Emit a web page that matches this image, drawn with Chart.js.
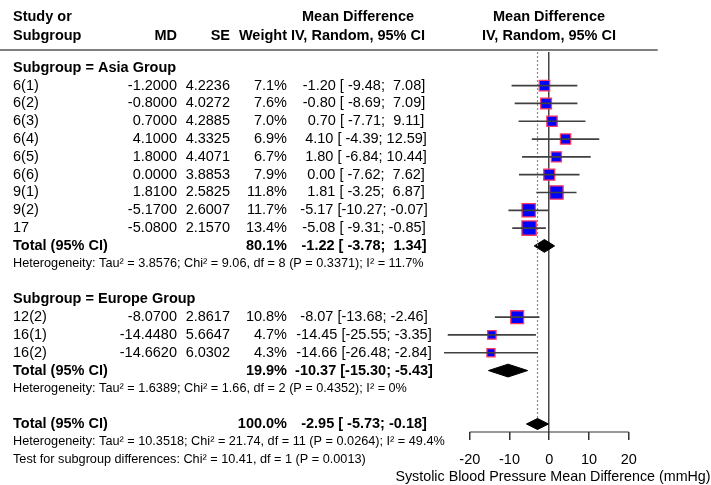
<!DOCTYPE html>
<html lang="en">
<head>
    <meta charset="UTF-8">
    <title>Forest plot - Systolic Blood Pressure</title>
    <script src="https://cdn.jsdelivr.net/npm/chart.js"></script>
    <style>
        body { margin: 0; background: #fff; }
        #forest { display: block; }
    </style>
</head>
<body>
    <canvas id="forest" width="711" height="485"></canvas>

    <script>
        // study level data
        const studies = ['6(1)', '6(2)', '6(3)', '6(4)', '6(5)', '6(6)', '9(1)', '9(2)', '17', '12(2)', '16(1)', '16(2)'];
        const studyRows = [1, 2, 3, 4, 5, 6, 7, 8, 9, 14, 15, 16];
        const md = [-1.2, -0.8, 0.7, 4.1, 1.8, 0.0, 1.81, -5.17, -5.08, -8.07, -14.448, -14.662];
        const se = [4.2236, 4.0272, 4.2885, 4.3325, 4.4071, 3.8853, 2.5825, 2.6007, 2.1570, 2.8617, 5.6647, 6.0302];
        const weight = [7.1, 7.6, 7.0, 6.9, 6.7, 7.9, 11.8, 11.7, 13.4, 10.8, 4.7, 4.3];
        const ciLow = [-9.48, -8.69, -7.71, -4.39, -6.84, -7.62, -3.25, -10.27, -9.31, -13.68, -25.55, -26.48];
        const ciHigh = [7.08, 7.09, 9.11, 12.59, 10.44, 7.62, 6.87, -0.07, -0.85, -2.46, -3.35, -2.84];

        // pooled estimates (Asia, Europe, overall)
        const pooledRows = [10, 17, 20];
        const pooledWeight = [80.1, 19.9, 100.0];
        const pooledMd = [-1.22, -10.37, -2.95];
        const pooledLow = [-3.78, -15.30, -5.73];
        const pooledHigh = [1.34, -5.43, -0.18];

        const groupHeads = ['Subgroup = Asia Group', 'Subgroup = Europe Group'];
        const groupHeadRows = [0, 13];
        const hetText = [
            'Heterogeneity: Tau\u00b2 = 3.8576; Chi\u00b2 = 9.06, df = 8 (P = 0.3371); I\u00b2 = 11.7%',
            'Heterogeneity: Tau\u00b2 = 1.6389; Chi\u00b2 = 1.66, df = 2 (P = 0.4352); I\u00b2 = 0%',
            'Heterogeneity: Tau\u00b2 = 10.3518; Chi\u00b2 = 21.74, df = 11 (P = 0.0264); I\u00b2 = 49.4%',
            'Test for subgroup differences: Chi\u00b2 = 10.41, df = 1 (P = 0.0013)'
        ];
        const hetRows = [11, 18, 21, 22];

        const xTicks = [-20, -10, 0, 10, 20];
        const xTitle = 'Systolic Blood Pressure Mean Difference (mmHg)';

        const FONT = '"Liberation Sans", Arial, sans-serif';
        const Y_TOP = -0.89, Y_BOTTOM = 20.45;

        const pad = (s, n) => s.length >= n ? s : ' '.repeat(n - s.length) + s;
        const estText = (m, lo, hi) =>
            pad(m.toFixed(2), 5) + ' [' + pad(lo.toFixed(2), 6) + '; ' + pad(hi.toFixed(2), 5) + ']';

        // CI whiskers, one small dataset each
        const ciSets = studies.map((s, i) => ({
            data: [{ x: ciLow[i], y: studyRows[i] }, { x: ciHigh[i], y: studyRows[i] }],
            showLine: true,
            borderColor: '#404040',
            borderWidth: 1.7,
            pointRadius: 0,
            clip: false
        }));

        const diamondSets = pooledMd.map((m, i) => {
            const r = pooledRows[i];
            const h = i === 2 ? 0.31 : 0.36;
            return {
                data: [
                    { x: pooledLow[i], y: r }, { x: m, y: r - h },
                    { x: pooledHigh[i], y: r }, { x: m, y: r + h },
                    { x: pooledLow[i], y: r }
                ],
                showLine: true,
                fill: 'shape',
                backgroundColor: '#000',
                borderColor: '#000',
                borderWidth: 1,
                pointRadius: 0,
                clip: false
            };
        });

        const textPlugin = {
            id: 'forestText',
            afterDraw(chart) {
                const ctx = chart.ctx;
                const ys = chart.scales.y;
                const py = r => ys.getPixelForValue(r);
                const put = (t, x, r, align, bold, size) => {
                    ctx.font = (bold ? 'bold ' : '') + (size || 14.5) + 'px ' + FONT;
                    ctx.textAlign = align;
                    ctx.fillText(t, x, typeof r === 'number' ? py(r) : r.px);
                };
                ctx.save();
                ctx.fillStyle = '#000';
                ctx.textBaseline = 'middle';

                // header
                put('Study or', 13, { px: 17 }, 'left', true);
                put('Subgroup', 13, { px: 36 }, 'left', true);
                put('MD', 177, { px: 36 }, 'right', true);
                put('SE', 230, { px: 36 }, 'right', true);
                put('Weight', 287, { px: 36 }, 'right', true);
                put('Mean Difference', 358, { px: 17 }, 'center', true);
                put('IV, Random, 95% CI', 358, { px: 36 }, 'center', true);
                put('Mean Difference', 549, { px: 17 }, 'center', true);
                put('IV, Random, 95% CI', 549, { px: 36 }, 'center', true);

                ctx.strokeStyle = '#555';
                ctx.lineWidth = 1.5;
                ctx.beginPath();
                ctx.moveTo(0, 50);
                ctx.lineTo(chart.chartArea.right, 50);
                ctx.stroke();

                groupHeads.forEach((g, i) => put(g, 13, groupHeadRows[i], 'left', true));

                studies.forEach((s, i) => {
                    const r = studyRows[i];
                    put(s, 13, r, 'left');
                    put(md[i].toFixed(4), 177, r, 'right');
                    put(se[i].toFixed(4), 230, r, 'right');
                    put(weight[i].toFixed(1) + '%', 287, r, 'right');
                    put(estText(md[i], ciLow[i], ciHigh[i]), 364, r, 'center');
                });

                pooledRows.forEach((r, i) => {
                    put('Total (95% CI)', 13, r, 'left', true);
                    put(pooledWeight[i].toFixed(1) + '%', 287, r, 'right', true);
                    put(estText(pooledMd[i], pooledLow[i], pooledHigh[i]), 364, r, 'center', true);
                });

                hetText.forEach((t, i) => put(t, 13, hetRows[i], 'left', false, 12.7));

                // axis title, wider than the plot so the scale title would squeeze it
                put(xTitle, 553, { px: 477 }, 'center', false, 14.3);
                ctx.restore();
            }
        };

        const ctx = document.getElementById('forest').getContext('2d');
        new Chart(ctx, {
            type: 'scatter',
            data: {
                datasets: [
                    ...ciSets,
                    {
                        // reference line at the overall estimate
                        data: [{ x: pooledMd[2], y: Y_TOP }, { x: pooledMd[2], y: pooledRows[2] - 0.3 }],
                        showLine: true,
                        borderColor: '#888',
                        borderWidth: 1.2,
                        borderDash: [2, 2],
                        pointRadius: 0
                    },
                    {
                        // x axis line between first and last tick
                        data: [{ x: xTicks[0], y: Y_BOTTOM }, { x: xTicks[xTicks.length - 1], y: Y_BOTTOM }],
                        showLine: true,
                        borderColor: '#333',
                        borderWidth: 1.2,
                        pointRadius: 0,
                        clip: false
                    },
                    {
                        data: studies.map((s, i) => ({ x: md[i], y: studyRows[i] })),
                        pointStyle: 'rect',
                        pointRadius: c => 3.9 * Math.sqrt(weight[c.dataIndex]) / Math.SQRT2,
                        backgroundColor: '#0000ff',
                        borderColor: '#ff3860',
                        borderWidth: 1.3,
                        clip: false
                    },
                    {
                        data: studies.map((s, i) => ({ x: md[i], y: studyRows[i] })),
                        pointStyle: 'cross',
                        pointRadius: 2.5,
                        borderColor: '#000',
                        borderWidth: 1
                    },
                    ...diamondSets
                ]
            },
            options: {
                responsive: false,
                animation: false,
                events: [],
                layout: { padding: { top: 52, left: 438, right: 53.3, bottom: 0 } },
                plugins: { legend: { display: false }, tooltip: { enabled: false } },
                scales: {
                    x: {
                        type: 'linear',
                        min: -28,
                        max: 27.3,
                        afterBuildTicks: s => { s.ticks = xTicks.map(v => ({ value: v })); },
                        afterFit: s => { s.height = 53; },
                        border: { display: false },
                        grid: {
                            drawOnChartArea: true,
                            color: c => (c.tick && c.tick.value === 0) ? '#444' : 'rgba(0,0,0,0)',
                            lineWidth: 1.5,
                            tickColor: '#333',
                            tickLength: 8
                        },
                        ticks: {
                            color: '#000',
                            padding: 11,
                            maxRotation: 0,
                            font: { family: FONT, size: 14.5 }
                        },
                        title: { display: false }
                    },
                    y: {
                        type: 'linear',
                        display: false,
                        reverse: true,
                        min: Y_TOP,
                        max: Y_BOTTOM
                    }
                }
            },
            plugins: [textPlugin]
        });
    </script>
</body>
</html>
